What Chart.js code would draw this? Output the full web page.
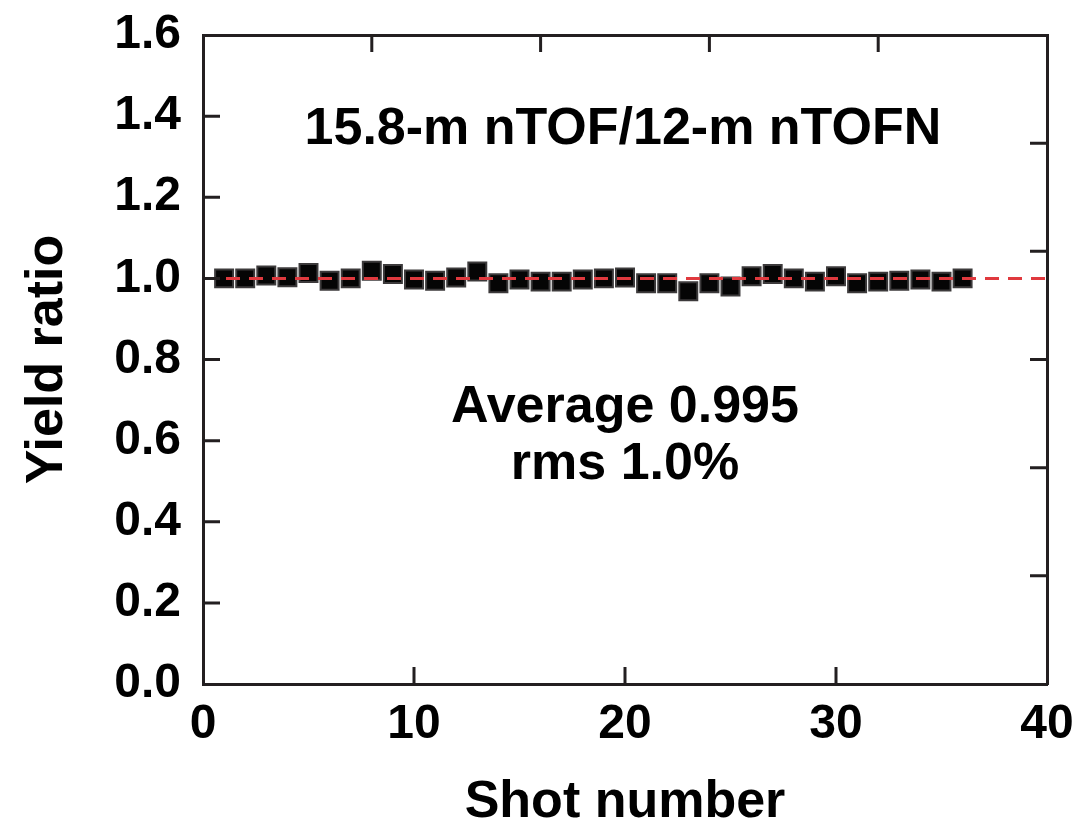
<!DOCTYPE html>
<html>
<head>
<meta charset="utf-8">
<script src="https://cdn.jsdelivr.net/npm/chart.js@4.4.1/dist/chart.umd.min.js"></script>
<style>
  html, body { margin: 0; padding: 0; background: #fff; }
  #wrap { width: 1089px; height: 833px; position: relative; }
</style>
</head>
<body>
<div id="wrap"><canvas id="chart"></canvas></div>
<script>
// Data
const shots = [1, 2, 3, 4, 5, 6, 7, 8, 9, 10, 11, 12, 13, 14, 15, 16, 17, 18,
  19, 20, 21, 22, 23, 24, 25, 26, 27, 28, 29, 30, 31, 32, 33, 34, 35, 36];
const yieldRatio = [1.000, 1.000, 1.007, 1.003, 1.013, 0.994, 1.000, 1.019, 1.011, 0.997,
  0.994, 1.002, 1.017, 0.988, 0.997, 0.992, 0.992, 0.997, 1.000, 1.002,
  0.988, 0.988, 0.968, 0.988, 0.980, 1.005, 1.011, 1.000, 0.992, 1.005,
  0.988, 0.992, 0.994, 0.997, 0.992, 1.000];
const refLine = [1.0, 1.0];
const refX = [0, 40];
const yTicks = [0.0, 0.2, 0.4, 0.6, 0.8, 1.0, 1.2, 1.4, 1.6];
const xTicks = [0, 10, 20, 30, 40];
const labelTitle = '15.8-m nTOF/12-m nTOFN';
const labelAvg = 'Average 0.995';
const labelRms = 'rms 1.0%';

const FONT = "'Liberation Sans', Arial, Helvetica, sans-serif";
const AXIS = '#231f20';

// Inner tick marks on all four sides
const innerTicks = {
  id: 'innerTicks',
  afterDraw(chart) {
    const { ctx, chartArea: a } = chart;
    const len = 17;
    ctx.save();
    ctx.strokeStyle = AXIS;
    ctx.lineWidth = 3;
    ctx.beginPath();
    Object.values(chart.scales).forEach(s => {
      s.ticks.forEach(t => {
        const p = s.getPixelForValue(t.value);
        if (s.isHorizontal()) {
          if (Math.abs(p - a.left) < 2 || Math.abs(p - a.right) < 2) return;
          if (s.position === 'bottom') { ctx.moveTo(p, a.bottom); ctx.lineTo(p, a.bottom - len); }
          else { ctx.moveTo(p, a.top); ctx.lineTo(p, a.top + len); }
        } else {
          if (Math.abs(p - a.top) < 2 || Math.abs(p - a.bottom) < 2) return;
          if (s.position === 'left') { ctx.moveTo(a.left, p); ctx.lineTo(a.left + len, p); }
          else { ctx.moveTo(a.right, p); ctx.lineTo(a.right - len, p); }
        }
      });
    });
    ctx.stroke();
    ctx.restore();
  }
};

// Text annotations inside the plot
const notes = {
  id: 'notes',
  afterDatasetsDraw(chart) {
    const { ctx } = chart;
    const x = chart.scales.x, y = chart.scales.y;
    ctx.save();
    ctx.fillStyle = '#000';
    ctx.textAlign = 'center';
    ctx.textBaseline = 'middle';
    ctx.font = 'bold 52px ' + FONT;
    ctx.fillText(labelTitle, x.getPixelForValue(19.9), y.getPixelForValue(1.366));
    ctx.fillText(labelAvg, x.getPixelForValue(20), y.getPixelForValue(0.682));
    ctx.fillText(labelRms, x.getPixelForValue(20), y.getPixelForValue(0.541));
    ctx.restore();
  }
};

new Chart(document.getElementById('chart'), {
  type: 'scatter',
  data: {
    datasets: [
      {
        type: 'line',
        data: refX.map((v, i) => ({ x: v, y: refLine[i] })),
        borderColor: '#e0393e',
        borderWidth: 3,
        borderDash: [14, 9],
        pointRadius: 0,
        fill: false
      },
      {
        data: shots.map((s, i) => ({ x: s, y: yieldRatio[i] })),
        pointStyle: 'rect',
        pointRadius: 12.7,
        backgroundColor: '#050505',
        borderColor: '#3c3a3b',
        borderWidth: 2
      }
    ]
  },
  options: {
    responsive: true,
    maintainAspectRatio: false,
    animation: false,
    layout: { padding: 0 },
    plugins: { legend: { display: false }, tooltip: { enabled: false } },
    scales: {
      x: {
        type: 'linear', position: 'bottom', min: 0, max: 40,
        afterBuildTicks: s => { s.ticks = xTicks.map(v => ({ value: v })); },
        afterFit: s => { s.height = 149; },
        border: { display: true, color: AXIS, width: 3 },
        grid: { display: false, drawTicks: false },
        ticks: { color: '#000', padding: 12, maxRotation: 0, font: { family: FONT, size: 48, weight: 'bold' } },
        title: { display: true, text: 'Shot number', color: '#000', padding: { top: 0, bottom: 4 },
          font: { family: FONT, size: 52, weight: 'bold', lineHeight: 1 } }
      },
      y: {
        type: 'linear', position: 'left', min: 0, max: 1.6,
        afterBuildTicks: s => { s.ticks = yTicks.map(v => ({ value: v })); },
        afterFit: s => { s.width = 203; s.paddingTop = 0; s.paddingBottom = 0; },
        border: { display: true, color: AXIS, width: 3 },
        grid: { display: false, drawTicks: false },
        ticks: { color: '#000', padding: 22, callback: v => v.toFixed(1),
          font: { family: FONT, size: 48, weight: 'bold', lineHeight: 1 } },
        title: { display: true, text: 'Yield ratio', color: '#000', padding: { top: 22, bottom: 0 },
          font: { family: FONT, size: 52, weight: 'bold', lineHeight: 1 } }
      },
      x2: {
        type: 'linear', position: 'top', min: 0, max: 5,
        ticks: { display: false, stepSize: 1 },
        afterFit: s => { s.height = 35; },
        border: { display: true, color: AXIS, width: 3 },
        grid: { display: false, drawTicks: false }
      },
      y2: {
        type: 'linear', position: 'right', min: 0, max: 6,
        ticks: { display: false, stepSize: 1 },
        afterFit: s => { s.width = 42; },
        border: { display: true, color: AXIS, width: 3 },
        grid: { display: false, drawTicks: false }
      }
    }
  },
  plugins: [innerTicks, notes]
});
</script>
</body>
</html>
